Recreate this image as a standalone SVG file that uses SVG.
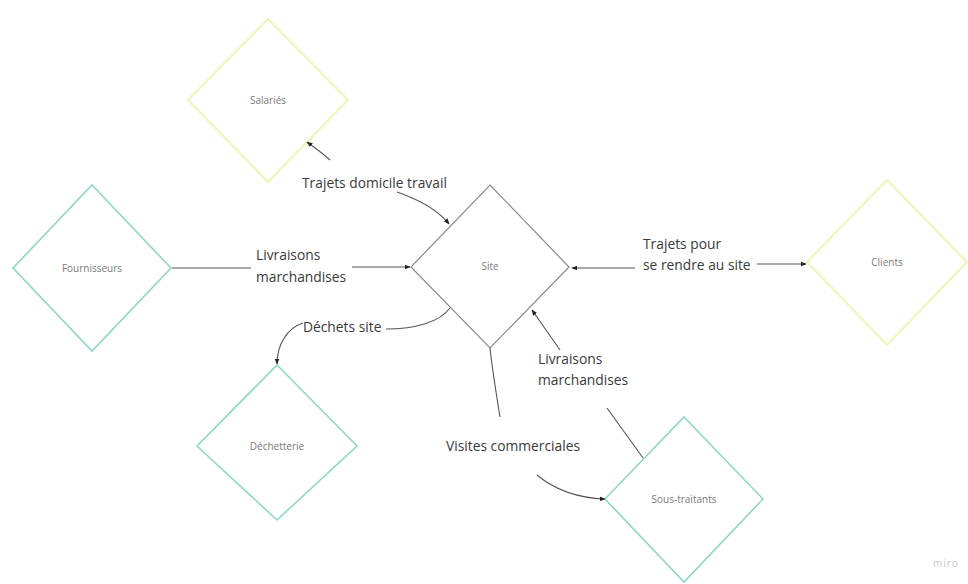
<svg xmlns="http://www.w3.org/2000/svg" width="968" height="584" viewBox="0 0 968 584">
<style>
.teal{fill:#fff;stroke:#8fd6c6;stroke-width:1.6}
.yel{fill:#fff;stroke:#f0f5bc;stroke-width:2.2}
.site{fill:#fff;stroke:#8a8a8a;stroke-width:1.2}
.nl{font-family:"Open Sans","Liberation Sans",sans-serif;font-size:10px;fill:#7a7a7a;text-anchor:middle;dominant-baseline:central}
.cl{font-family:"Open Sans","Liberation Sans",sans-serif;font-size:13.8px;fill:#3a3a3a}
.c{fill:none;stroke:#555;stroke-width:1.1}
</style>
<defs>
<marker id="ah" viewBox="0 0 10 10" refX="9" refY="5" markerWidth="6" markerHeight="6" orient="auto-start-reverse" markerUnits="userSpaceOnUse">
<path d="M0,1 L10,5 L0,9 z" fill="#222"/>
</marker>
</defs>
<rect width="968" height="584" fill="#fff"/>
<g id="salaries"><polygon class="yel" points="268,19 348,100 268,182 188,100"/><text class="nl" x="268" y="100">Salariés</text></g>
<g id="fournisseurs"><polygon class="teal" points="92,185 171,268 92,351 13,268"/><text class="nl" x="92" y="268">Fournisseurs</text></g>
<g id="site"><polygon class="site" points="490,185 569,267 490,348 411,267"/><text class="nl" x="490" y="266">Site</text></g>
<g id="clients"><polygon class="yel" points="887,180 967,262 887,345 807,262"/><text class="nl" x="887" y="262">Clients</text></g>
<g id="dechetterie"><polygon class="teal" points="277,365 357,446 277,520 197,446"/><text class="nl" x="277" y="446">Déchetterie</text></g>
<g id="soustraitants"><polygon class="teal" points="684,417 763,499 684,582 605,499"/><text class="nl" x="684" y="499">Sous-traitants</text></g>
<g id="connectors">
<path class="c" d="M330,160 C322,153 314,147 307,142" marker-end="url(#ah)"/>
<path class="c" d="M397,192 C420,200 438,210 449,224" marker-end="url(#ah)"/>
<path class="c" d="M172,268 L251,268"/>
<path class="c" d="M352,267 L410,267" marker-end="url(#ah)"/>
<path class="c" d="M635,268 L572,268" marker-end="url(#ah)"/>
<path class="c" d="M757,264 L806,264" marker-end="url(#ah)"/>
<path class="c" d="M450,308 C440,322 415,329 386,329"/>
<path class="c" d="M303,323 C287,328 277,345 277,364" marker-end="url(#ah)"/>
<path class="c" d="M560,350 L532,310" marker-end="url(#ah)"/>
<path class="c" d="M607,408 L643,458"/>
<path class="c" d="M490,348 C493,375 497,398 500,417"/>
<path class="c" d="M537,475 C555,490 578,498 605,499" marker-end="url(#ah)"/>
</g>
<text class="cl" x="302" y="188">Trajets domicile travail</text>
<text class="cl" x="256" y="260">Livraisons</text>
<text class="cl" x="256" y="282">marchandises</text>
<text class="cl" x="643" y="249">Trajets pour</text>
<text class="cl" x="643" y="270">se rendre au site</text>
<text class="cl" x="303" y="332">Déchets site</text>
<text class="cl" x="538" y="364">Livraisons</text>
<text class="cl" x="538" y="385">marchandises</text>
<text class="cl" x="446" y="451">Visites commerciales</text>
<text x="946" y="567" style="font-family:'Open Sans','Liberation Sans',sans-serif;font-size:10px;fill:#c8c8c8;letter-spacing:1px" text-anchor="middle">miro</text>
</svg>
